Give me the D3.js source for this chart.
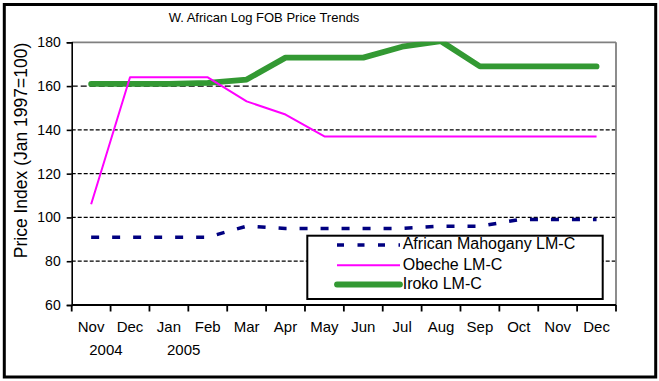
<!DOCTYPE html>
<html><head><meta charset="utf-8">
<script src="https://cdn.jsdelivr.net/npm/d3@7"></script>
<style>body{margin:0;background:#fff}svg{display:block;font-family:"Liberation Sans",Arial,sans-serif}</style>
</head><body><svg id="c" width="659" height="381"></svg>
<script>
const months = ["Nov","Dec","Jan","Feb","Mar","Apr","May","Jun","Jul","Aug","Sep","Oct","Nov","Dec"];
const yearLabels = [{i:0, t:"2004"}, {i:2, t:"2005"}];
const mahogany = [91,91,91,91,96,95,95,95,95,96,96,99,99,99];
const obeche   = [106,164,164,164,153,147,137,137,137,137,137,137,137,137];
const iroko    = [161,161,161,161.5,163,173,173,173,178,180.5,169,169,169,169];
const yTicks = [60,80,100,120,140,160,180];
const seriesNames = ["African Mahogany LM-C","Obeche LM-C","Iroko LM-C"];

const svg = d3.select("#c");
const L = 71.7, R = 616, T = 42.3, B = 305;
const keys = months.map((m,i)=>i);
const x = d3.scalePoint().domain(keys).range([L,R]).padding(0.5);
const y = d3.scaleLinear().domain([60,180]).range([B,T]);

// outer border
svg.append("rect").attr("x",4.3).attr("y",4.5).attr("width",651.4).attr("height",372.5)
  .attr("fill","#fff").attr("stroke","#000").attr("stroke-width",3);

// title
svg.append("text").attr("x",264).attr("y",22).attr("text-anchor","middle")
  .attr("font-size",13).text("W. African Log FOB Price Trends");

// gridlines
svg.append("g").selectAll("line").data(yTicks.filter(v=>v>60&&v<180)).join("line")
  .attr("x1",L).attr("x2",R).attr("y1",d=>y(d)).attr("y2",d=>y(d))
  .attr("stroke","#000").attr("stroke-width",1.3)
  .attr("stroke-dasharray",d=>d===160?"6,3":"4,2");

// plot border top/right gray
svg.append("line").attr("x1",L).attr("x2",R).attr("y1",T).attr("y2",T).attr("stroke","#808080").attr("stroke-width",1.8);
svg.append("line").attr("x1",R).attr("x2",R).attr("y1",T).attr("y2",B).attr("stroke","#808080").attr("stroke-width",1.8);

// y axis
const yAxis = d3.axisLeft(y).tickValues(yTicks).tickSize(5).tickPadding(6);
const gy = svg.append("g").attr("transform",`translate(${L},0)`).call(yAxis);
gy.select(".domain").attr("stroke","#000").attr("stroke-width",1.6);
gy.selectAll(".tick line").attr("stroke","#000").attr("stroke-width",1.6);
gy.selectAll(".tick text").attr("font-size",14).attr("font-family","Liberation Sans, Arial, sans-serif").attr("fill","#000");

// x axis with band boundary ticks
const bw = x.step();
const xb = d3.scaleLinear().domain([0,14]).range([L,R]);
const gx = svg.append("g");
gx.append("line").attr("x1",L).attr("x2",R).attr("y1",B).attr("y2",B).attr("stroke","#000").attr("stroke-width",2.2);
gx.selectAll("line.t").data(d3.range(15)).join("line").attr("class","t")
  .attr("x1",d=>xb(d)).attr("x2",d=>xb(d)).attr("y1",B).attr("y2",B+6.5)
  .attr("stroke","#000").attr("stroke-width",1.8);
gx.selectAll("text.m").data(months).join("text").attr("class","m")
  .attr("x",(d,i)=>x(i)).attr("y",332).attr("text-anchor","middle").attr("font-size",15).text(d=>d);
gx.selectAll("text.yr").data(yearLabels).join("text").attr("class","yr")
  .attr("x",d=>x(d.i)+bw*0.38).attr("y",355).attr("text-anchor","middle").attr("font-size",15).text(d=>d.t);

// y label
svg.append("text").attr("transform","translate(27,150.5) rotate(-90)").attr("text-anchor","middle")
  .attr("font-size",17.5).text("Price Index (Jan 1997=100)");

// clip
svg.append("clipPath").attr("id","pc").append("rect").attr("x",L-10).attr("y",T-0.5).attr("width",R-L+20).attr("height",B-T+10);

const line = d3.line().x((d,i)=>x(i)).y(d=>y(d));
const gs = svg.append("g").attr("clip-path","url(#pc)");
const styles = [
  {data:mahogany, color:"#000080", w:3.5, dash:"8,13", cap:"butt"},
  {data:obeche, color:"#FF00FF", w:2, dash:null, cap:"butt"},
  {data:iroko, color:"#339933", w:5.8, dash:null, cap:"round"}
];
// draw order: iroko, obeche, mahogany? keep mahogany on top of others? draw iroko first
[styles[2], styles[1], styles[0]].forEach(s=>{
  gs.append("path").attr("d",line(s.data)).attr("fill","none").attr("stroke",s.color)
    .attr("stroke-width",s.w).attr("stroke-dasharray",s.dash).attr("stroke-linecap",s.cap)
    .attr("stroke-linejoin","round");
});

// legend
const lg = svg.append("g");
lg.append("rect").attr("x",307.3).attr("y",235.7).attr("width",295.4).attr("height",63.3)
  .attr("fill","#fff").attr("stroke","#000").attr("stroke-width",2);
const rowY = [245,265.3,284.5];
seriesNames.forEach((n,i)=>{
  const s = styles[i];
  lg.append("line").attr("x1",337).attr("x2",400).attr("y1",rowY[i]).attr("y2",rowY[i])
    .attr("stroke",s.color).attr("stroke-width",s.w).attr("stroke-dasharray",s.dash ? "7,13.5" : null)
    .attr("stroke-linecap",s.cap);
  lg.append("text").attr("x",402.7).attr("y",rowY[i]+4.5+ (i===0?-1:0)).attr("font-size",16).text(n);
});
</script></body></html>
